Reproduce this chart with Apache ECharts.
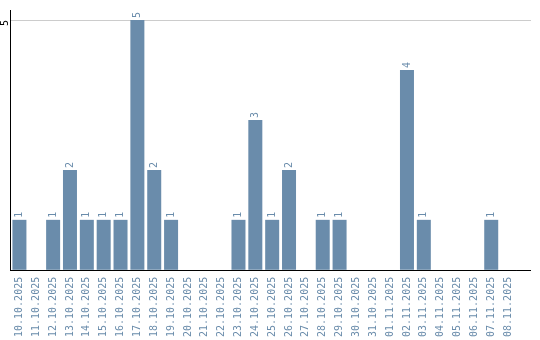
<!DOCTYPE html>
<html><head><meta charset="utf-8">
<script src="https://cdn.jsdelivr.net/npm/echarts@6/dist/echarts.min.js"></script>
<style>html,body{margin:0;padding:0;background:#fff}#c{width:540px;height:340px}</style>
</head><body><div id="c"></div>
<script>
const categories = ['10.10.2025','11.10.2025','12.10.2025','13.10.2025','14.10.2025','15.10.2025','16.10.2025','17.10.2025','18.10.2025','19.10.2025','20.10.2025','21.10.2025','22.10.2025','23.10.2025','24.10.2025','25.10.2025','26.10.2025','27.10.2025','28.10.2025','29.10.2025','30.10.2025','31.10.2025','01.11.2025','02.11.2025','03.11.2025','04.11.2025','05.11.2025','06.11.2025','07.11.2025','08.11.2025'];
const counts = [1,0,1,2,1,1,1,5,2,1,0,0,0,1,3,1,2,0,1,1,0,0,0,4,1,0,0,0,1,0];
const yTicks = [5];

const barColor = '#6a8cab';
const font = 'DejaVu Sans Mono';
const chart = echarts.init(document.getElementById('c'), null, {renderer:'canvas'});
chart.setOption({
  animation:false,
  grid:{left:6.5, top:20, width:510, bottom:70, containLabel:false},
  xAxis:{type:'category', data:categories,
    axisLine:{lineStyle:{color:'#000', width:1}},
    axisTick:{show:false},
    axisLabel:{rotate:90, interval:0, color:barColor, fontFamily:font, fontSize:10, margin:7}
  },
  yAxis:[{type:'value', min:0, max:5, interval:5,
    axisLine:{show:false},
    axisTick:{show:false},
    splitLine:{lineStyle:{color:'#cccccc', width:1}},
    axisLabel:{show:false}
  },{type:'value', min:0, max:5, interval:5, position:'left', offset:0, z:110,
    axisLine:{show:false},
    axisTick:{show:false},
    splitLine:{show:false},
    axisLabel:{rotate:90, margin:1, color:'#000', fontFamily:font, fontSize:10,
      align:'right', verticalAlign:'bottom',
      formatter:v => yTicks.indexOf(v) >= 0 ? String(v) : ''}
  }],
  series:[{type:'bar', data:counts, barWidth:14, yAxisIndex:0,
    itemStyle:{color:barColor},
    label:{show:true, position:'top', rotate:90, align:'left', verticalAlign:'middle', distance:2,
      color:barColor, fontFamily:font, fontSize:10,
      formatter:p => p.value ? String(p.value) : ''}
  }],
  graphic:[
    {type:'rect', shape:{x:6.5, y:19, width:4, height:253}, style:{fill:'#fff'}, z:100},
    {type:'line', shape:{x1:10.5, y1:10, x2:10.5, y2:271}, style:{stroke:'#000', lineWidth:1}, z:101},
    {type:'line', shape:{x1:516, y1:270.5, x2:531, y2:270.5}, style:{stroke:'#000', lineWidth:1}},
    {type:'line', shape:{x1:516, y1:20.5, x2:531, y2:20.5}, style:{stroke:'#cccccc', lineWidth:1}}
  ]
});
</script></body></html>
